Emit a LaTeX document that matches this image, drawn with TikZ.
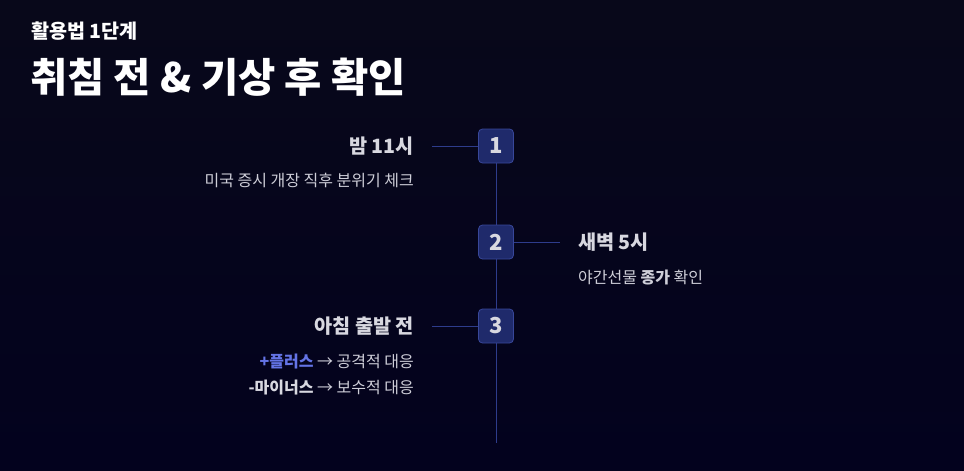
\documentclass[tikz,border=0pt]{standalone}
\usepackage{fontspec}
\setmainfont{Noto Sans CJK KR}
\usepackage{xcolor}
\usetikzlibrary{positioning}

\definecolor{bgtop}{RGB}{8,8,26}
\definecolor{bgbot}{RGB}{3,2,30}
\definecolor{boxfill}{RGB}{31,42,107}
\definecolor{boxline}{RGB}{56,71,154}
\definecolor{railblue}{RGB}{46,60,140}
\definecolor{labelgray}{RGB}{216,216,224}
\definecolor{notegray}{RGB}{206,206,216}
\definecolor{plusblue}{RGB}{100,116,230}

\begin{document}
\begin{tikzpicture}[
    x=1pt, y=-1pt,
    every node/.style={inner sep=0pt},
    stepbox/.style={rectangle, draw=boxline, fill=boxfill, line width=0.8pt, rounded corners=4pt, minimum width=35pt, minimum height=34pt, text=labelgray, font=\fontsize{22}{26}\selectfont\bfseries},
    timelabel/.style={text=labelgray, font=\fontsize{19.7}{23}\selectfont\bfseries},
    note/.style={text=notegray, font=\fontsize{16}{19}\selectfont, align=right},
    link/.style={draw=railblue, line width=1pt}
]
% background
\shade[top color=bgtop, bottom color=bgbot] (0,0) rectangle (964,471);
\useasboundingbox (0,0) rectangle (964,471);

% heading
\node (kicker) [anchor=west, text=white, font=\fontsize{19.6}{23}\selectfont\bfseries] at (31,31) {활용법 1단계};
\node (title) [anchor=west, text=white, font=\fontsize{40.5}{46}\selectfont\bfseries] at (30,77) {취침 전 \& 기상 후 확인};

% rail
\coordinate (railend) at (496,443);
\draw [link] (496,146) -- (railend);

% steps
\node (step1) [stepbox] at (496,146) {1};
\node (step2) [stepbox] at (496,242) {2};
\node (step3) [stepbox] at (496,326) {3};

\node (time1) [timelabel, left=64pt of step1] {밤 11시};
\node (note1) [note, below=18pt of time1.south east, anchor=north east] {미국 증시 개장 직후 분위기 체크};

\node (time2) [timelabel, right=64pt of step2] {새벽 5시};
\node (note2) [note, below=18pt of time2.south west, anchor=north west] {야간선물 \textbf{종가} 확인};

\node (time3) [timelabel, left=64pt of step3] {아침 출발 전};
\node (note3) [note, below=18pt of time3.south east, anchor=north east, font=\fontsize{16}{26}\selectfont] {\textcolor{plusblue}{\textbf{+플러스}} → 공격적 대응\\\textcolor{labelgray}{\textbf{-마이너스}} → 보수적 대응};

\draw [link] (step1.west) -- ([xshift=18pt]time1.east);
\draw [link] (step2.east) -- ([xshift=-18pt]time2.west);
\draw [link] (step3.west) -- ([xshift=18pt]time3.east);
\end{tikzpicture}
\end{document}
